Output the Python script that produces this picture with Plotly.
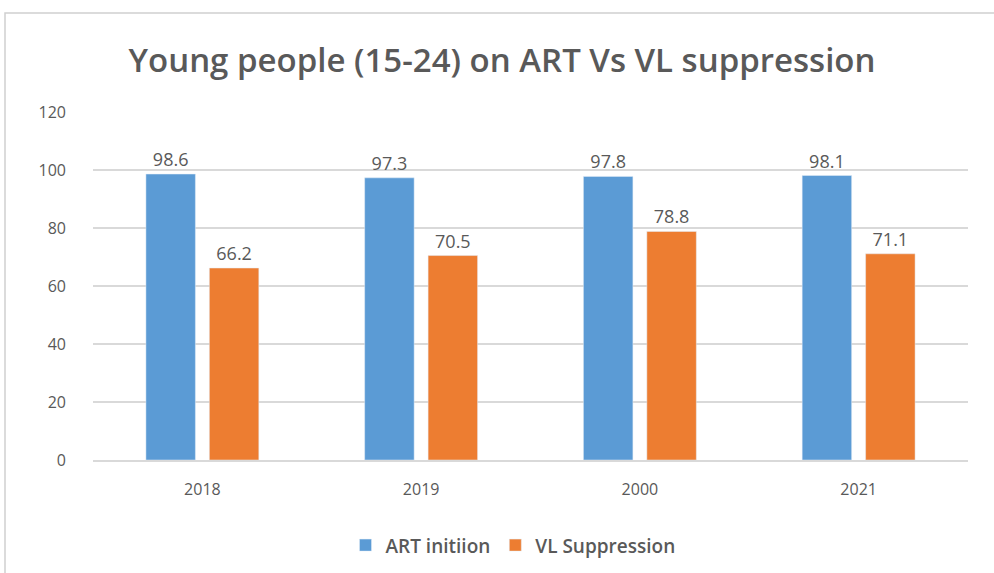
import plotly.graph_objects as go

years = ["2018", "2019", "2000", "2021"]
art_initiation = [98.6, 97.3, 97.8, 98.1]
vl_suppression = [66.2, 70.5, 78.8, 71.1]
y_ticks = [0, 20, 40, 60, 80, 100, 120]

L, R, T, B = 93, 26, 112, 113
W, H = 994, 573
pw, ph = W - L - R, H - T - B

fig = go.Figure()
fig.add_trace(go.Bar(
    x=years, y=art_initiation, name="ART initiion",
    marker=dict(color="#5B9BD5"),
    text=[f"{v:.1f}" for v in art_initiation], textposition="outside",
    textfont=dict(size=18, color="#595959"), cliponaxis=False,
))
fig.add_trace(go.Bar(
    x=years, y=vl_suppression, name="VL Suppression",
    marker=dict(color="#ED7D31"),
    text=[f"{v:.1f}" for v in vl_suppression], textposition="outside",
    textfont=dict(size=18, color="#595959"), cliponaxis=False,
))

fig.update_layout(
    width=W, height=H,
    margin=dict(l=L, r=R, t=T, b=B, autoexpand=False),
    paper_bgcolor="white", plot_bgcolor="white",
    barmode="group", bargap=0.42, bargroupgap=0.22,
    font=dict(family="Open Sans, Liberation Sans, sans-serif", color="#595959"),
    title=dict(text="Young people (15-24) on ART Vs VL suppression",
               x=0.505, xanchor="center", y=0.895, yanchor="middle",
               font=dict(size=33, color="#595959", family="Open Sans, sans-serif", weight=600)),
    xaxis=dict(showgrid=False, showline=True, linecolor="#D9D9D9", linewidth=2,
               tickfont=dict(size=16, color="#595959"), ticks="", ticklabelstandoff=14),
    yaxis=dict(range=[0, 120], tickvals=y_ticks, showgrid=True, gridcolor="#D9D9D9",
               gridwidth=2, zeroline=False, showline=False,
               tickfont=dict(size=16, color="#595959"), ticklabelstandoff=26),
    legend=dict(orientation="h", x=0.48, xanchor="center", y=-0.245, yanchor="middle",
                font=dict(size=19, color="#595959", weight=600), itemwidth=30),
    shapes=[dict(type="rect", xref="paper", yref="paper",
                 x0=(5 - L) / pw, x1=(1000 - L) / pw,
                 y0=-(600 - (H - B)) / ph,
                 y1=((H - B) - 13) / ph,
                 line=dict(color="#D0D0D0", width=1.5), layer="below")],
)

fig.write_html("out.html")
